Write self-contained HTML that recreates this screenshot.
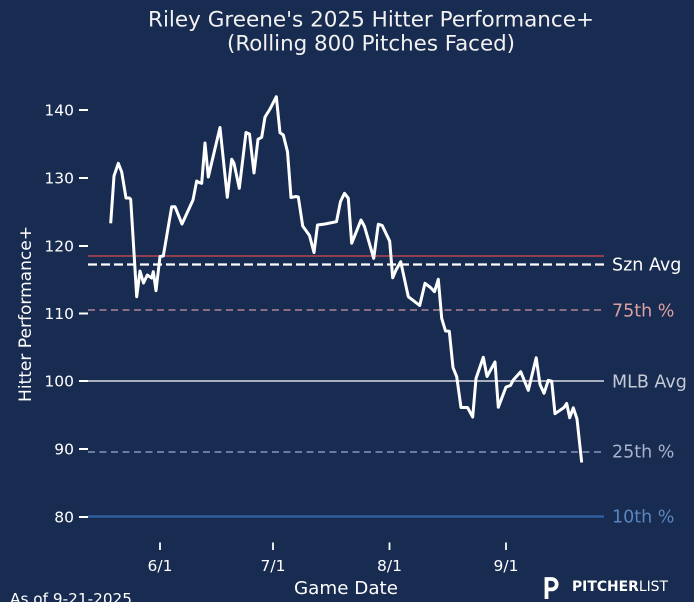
<!DOCTYPE html>
<html>
<head>
<meta charset="utf-8">
<style>
html,body{margin:0;padding:0;background:#182b50;}
svg{display:block;}
text{font-family:"DejaVu Sans","Liberation Sans",sans-serif;}
</style>
</head>
<body>
<svg width="694" height="602" viewBox="0 0 694 602" xmlns="http://www.w3.org/2000/svg">
<rect x="0" y="0" width="694" height="602" fill="#182b50"/>

<!-- Title -->
<text x="148" y="26.5" font-size="21" fill="#f2f2f2" textLength="446" lengthAdjust="spacingAndGlyphs">Riley Greene's 2025 Hitter Performance+</text>
<text x="227" y="50.5" font-size="21" fill="#f2f2f2" textLength="288" lengthAdjust="spacingAndGlyphs">(Rolling 800 Pitches Faced)</text>

<!-- Reference lines -->
<line x1="88" y1="256" x2="604" y2="256" stroke="#8f3d4f" stroke-width="2"/>
<line x1="88" y1="264.5" x2="604" y2="264.5" stroke="#ffffff" stroke-width="2.3" stroke-dasharray="9,4"/>
<line x1="88" y1="310" x2="604" y2="310" stroke="#8a6e86" stroke-width="2" stroke-dasharray="7,4.5"/>
<line x1="88" y1="381" x2="604" y2="381" stroke="#a9b0bd" stroke-width="2"/>
<line x1="88" y1="452" x2="604" y2="452" stroke="#6b7aa0" stroke-width="2" stroke-dasharray="7,4.5"/>
<line x1="88" y1="516.5" x2="604" y2="516.5" stroke="#2e5e9e" stroke-width="2.5"/>

<!-- Right labels -->
<text x="612" y="270.5" font-size="17.5" fill="#ffffff">Szn Avg</text>
<text x="612" y="316.5" font-size="17.5" fill="#dba0a0">75th %</text>
<text x="612" y="387.5" font-size="17.5" fill="#c5cbd6">MLB Avg</text>
<text x="612" y="457.5" font-size="17.5" fill="#a7b2cc">25th %</text>
<text x="612" y="522.5" font-size="17.5" fill="#5a85be">10th %</text>

<!-- Y ticks -->
<g stroke="#ffffff" stroke-width="2">
<line x1="79" y1="110" x2="88" y2="110"/>
<line x1="79" y1="178" x2="88" y2="178"/>
<line x1="79" y1="246" x2="88" y2="246"/>
<line x1="79" y1="313.5" x2="88" y2="313.5"/>
<line x1="79" y1="381" x2="88" y2="381"/>
<line x1="79" y1="449" x2="88" y2="449"/>
<line x1="79" y1="517" x2="88" y2="517"/>
</g>
<g font-size="15.5" fill="#ffffff" text-anchor="end">
<text x="74" y="115.5">140</text>
<text x="74" y="183.5">130</text>
<text x="74" y="251.5">120</text>
<text x="74" y="319">110</text>
<text x="74" y="386.5">100</text>
<text x="74" y="454.5">90</text>
<text x="74" y="522.5">80</text>
</g>

<!-- Y label -->
<text transform="translate(31,314) rotate(-90)" font-size="17" fill="#ffffff" text-anchor="middle" textLength="176" lengthAdjust="spacingAndGlyphs">Hitter Performance+</text>

<!-- X ticks -->
<g stroke="#ffffff" stroke-width="1.8">
<line x1="160" y1="542.5" x2="160" y2="550"/>
<line x1="273" y1="542.5" x2="273" y2="550"/>
<line x1="389.5" y1="542.5" x2="389.5" y2="550"/>
<line x1="506" y1="542.5" x2="506" y2="550"/>
</g>
<g font-size="15.5" fill="#ffffff" text-anchor="middle">
<text x="160" y="571">6/1</text>
<text x="273" y="571">7/1</text>
<text x="389.5" y="571">8/1</text>
<text x="506" y="571">9/1</text>
</g>
<text x="346" y="594" font-size="18" fill="#ffffff" text-anchor="middle" textLength="104" lengthAdjust="spacingAndGlyphs">Game Date</text>
<text x="10" y="604" font-size="15" fill="#ffffff" textLength="122" lengthAdjust="spacingAndGlyphs">As of 9-21-2025</text>

<!-- Logo -->
<path d="M546.5,599 V579 h5 a5.2,5.2 0 0 1 0,10.4 h-5" fill="none" stroke="#ffffff" stroke-width="3.8"/>
<text x="572" y="591" font-size="14" fill="#ffffff" textLength="96" lengthAdjust="spacingAndGlyphs"><tspan font-weight="bold">PITCHER</tspan><tspan font-weight="normal">LIST</tspan></text>

<!-- Data line -->
<polyline fill="none" stroke="#ffffff" stroke-width="3" stroke-linejoin="round" stroke-linecap="butt" points="
110.7,223.3 114,176 118.3,163.3 121.7,172 126,198 129.3,198 130.7,199.3 136.7,296.7 140,271 143.5,283 147.3,275 151.7,278 153.3,271.7 156,290.7 160,256.5 163.3,256 171.7,206.7 175,206.7 182,224 193,200 196.7,181 199.5,182.7 201.7,183.3 205,143 208.3,177 220,127.5 227.3,197.3 231.7,159.3 234,163.3 239.3,188.3 246,132.5 249.5,134 254,173 258,139.3 261.7,137.3 265,117 270,109 276.3,96.7 280,132.7 283.3,135 287.5,151.7 291,197.5 296,196.5 298.3,197 302.7,226 309.5,235.5 314,252.5 317.5,225 325,224 336.5,221.7 340.5,201.5 344.5,193.3 348.3,198.3 351.7,243.3 361,220 364.5,226.5 373.7,258.3 378.3,224.2 382.2,225.5 389.7,241.2 392.7,277.8 396,270 400.7,261.7 408.3,296.7 419.7,305.5 425,283.3 430.5,287.5 434.5,291.7 438.3,279.3 441.7,318.3 445.5,331 449.3,331.3 453,367.5 456.7,376.7 461,407.5 467.5,407.5 472.7,417 476,378.5 483.3,357.3 487,376.5 495,362 498.3,407.3 506,387 510.5,385.5 513.3,380 520.7,371.7 528.3,390.3 536.2,357.8 540,384.5 544,393.3 548.3,380.3 551.7,381.2 555,413.7 564,407.5 566.7,403.5 569.7,417.8 573.3,407.8 577,419 581.7,462.5"/>
</svg>
</body>
</html>
